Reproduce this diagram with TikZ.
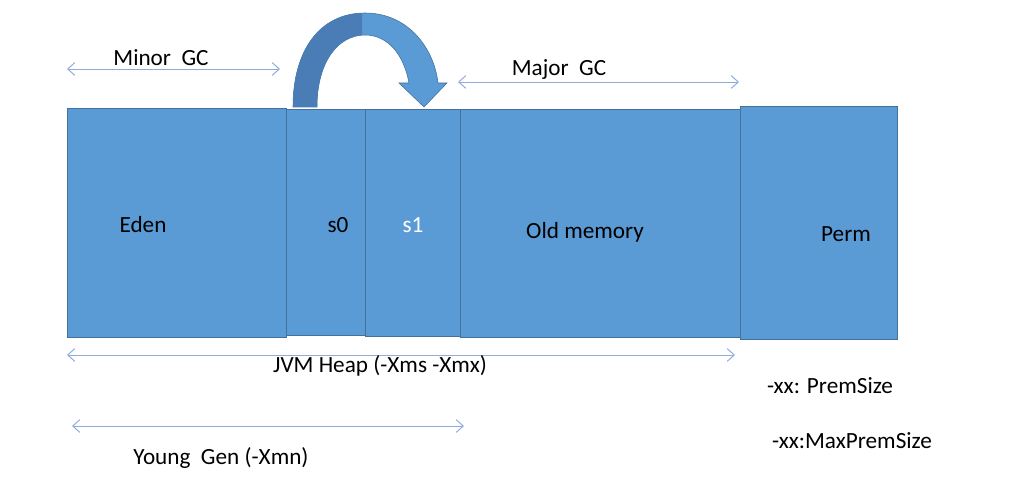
\documentclass[tikz,border=0pt]{standalone}
\usepackage{fontspec}
\setmainfont{Carlito}
\usepackage{xcolor}
\usetikzlibrary{arrows.meta}
\definecolor{heapfill}{HTML}{5B9BD5}
\definecolor{heapline}{HTML}{41719C}
\definecolor{dimline}{HTML}{8FAADC}
\definecolor{flipdark}{HTML}{4A7DB5}
\tikzset{
  box/.style={draw=heapline, fill=heapfill, line width=0.6pt, inner sep=0pt},
  lbl/.style={inner sep=0pt, font=\fontsize{16.5}{19}\selectfont, text=black},
  dim/.style={draw=dimline, line width=0.7pt,
      {Straight Barb[length=5pt,width=9pt]}-{Straight Barb[length=5pt,width=9pt]}}
}

\begin{document}
\begin{tikzpicture}[x=0.025cm, y=-0.025cm]
      \useasboundingbox (0,0) rectangle (1026,497);

      % heap blocks
      \node[box, minimum width=5.475cm, minimum height=5.725cm](eden) at (176.5,222.5){};
      \node[box, minimum width=1.975cm, minimum height=5.65cm](s0) at (325.5,222){};
      \node[box, minimum width=2.375cm, minimum height=5.675cm](s1) at (412.5,222.5){};
      \node[box, minimum width=7cm, minimum height=5.7cm](old) at (600,223){};
      \node[box, minimum width=3.925cm, minimum height=5.825cm](perm) at (818.5,222.5){};

      \node[lbl](edenT) at (143,225){Eden};
      \node[lbl](s0T) at (338,225){s0};
      \node[lbl, text=white](s1T) at (413,225){s1};
      \node[lbl](oldT) at (585,232){Old memory};
      \node[lbl](permT) at (846,234){Perm};

      % copy arrow s0 -> s1
      \fill[heapfill, draw=heapline, line width=0.4pt]
        (293,107) .. controls (293,50) and (320,13) .. (365,13)
        .. controls (408,13) and (434,48) .. (438,83)
        -- (447,83) -- (424,107) -- (399,83) -- (409,83)
        .. controls (404,55) and (388,35) .. (365,35)
        .. controls (338,35) and (317,62) .. (317,107) -- cycle;
      \begin{scope}
        \clip (280,0) rectangle (362,110);
        \fill[flipdark]
          (293,107) .. controls (293,50) and (320,13) .. (365,13)
          -- (365,35)
          .. controls (338,35) and (317,62) .. (317,107) -- cycle;
      \end{scope}

      % dimension lines
      \coordinate (minA) at (67,69);
      \coordinate (minB) at (280,69);
      \coordinate (majA) at (458,82);
      \coordinate (majB) at (739,82);
      \coordinate (jvmA) at (67,355);
      \coordinate (jvmB) at (735,355);
      \coordinate (yngA) at (72,426);
      \coordinate (yngB) at (464,426);

      \draw[dim] (minA) -- (minB);
      \draw[dim] (majA) -- (majB);
      \draw[dim] (jvmA) -- (jvmB);
      \draw[dim] (yngA) -- (yngB);

      \node[lbl](minor) at (161,58){Minor\ \ GC};
      \node[lbl](major) at (559,70){Major\ \ GC};
      \node[lbl](jvm) at (380,366){JVM Heap (-Xms -Xmx)};
      \node[lbl](young) at (221,458){Young\ \ Gen (-Xmn)};
      \node[lbl](prem) at (830,386){-xx: PremSize};
      \node[lbl](maxprem) at (852,441){-xx:MaxPremSize};
    \end{tikzpicture}
\end{document}
